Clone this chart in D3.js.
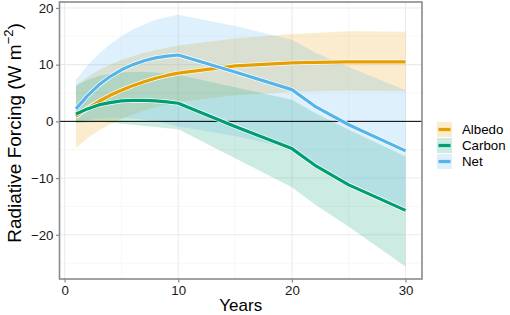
<!DOCTYPE html>
<html><head><meta charset="utf-8">
<script src="https://cdn.jsdelivr.net/npm/d3@7"></script>
<style>body{margin:0;background:#fff}svg{display:block;font-family:"Liberation Sans",Arial,sans-serif}</style>
</head><body><svg id="c" width="510" height="315"></svg>
<script>
const years = [1,2,3,4,5,6,7,8,9,10,15,20,22,25,30];
const albedoMean  = [0.9,2.3,3.5,4.6,5.5,6.3,7.0,7.6,8.1,8.5,9.8,10.3,10.4,10.5,10.5];
const albedoLower = [-4.7,-3.0,-1.6,-0.5,0.4,1.2,1.9,2.5,3.0,3.4,4.6,5.2,5.3,5.4,5.3];
const albedoUpper = [6.3,7.8,9.0,10.0,10.8,11.5,12.1,12.6,13.0,13.4,14.6,15.4,15.6,15.9,15.8];
const carbonMean  = [1.3,2.2,2.9,3.3,3.6,3.7,3.7,3.6,3.45,3.2,-0.9,-4.8,-7.7,-11.2,-15.7];
const carbonLower = [-0.3,-0.2,-0.1,-0.2,-0.4,-0.6,-0.8,-1.0,-1.2,-1.4,-6.5,-11.6,-14.6,-18.6,-25.6];
const carbonUpper = [6.3,7.3,8.0,8.4,8.6,8.7,8.7,8.6,8.4,8.2,6.0,3.8,1.5,-1.5,-6.2];
const netMean  = [2.2,4.5,6.4,7.9,9.1,10.0,10.7,11.2,11.5,11.7,8.7,5.6,2.7,-0.6,-5.2];
const netLower = [-0.3,0.2,0.5,0.6,0.6,0.5,0.3,0.0,-0.4,-0.9,-2.6,-4.8,-7.5,-10.8,-15.4];
const netUpper = [7.3,9.8,11.9,13.6,15.0,16.2,17.1,17.9,18.4,18.8,16.8,14.4,12.2,9.6,5.5];
const seriesNames = ["Albedo","Carbon","Net"];
const seriesColors = ["#E69F00","#009E73","#56B4E9"];
const xTicks = [0,10,20,30];
const yTicks = [-20,-10,0,10,20];
const xMinor = [5,15,25];
const yMinor = [-25,-15,-5,5,15];

const svg = d3.select("#c");
const L=59.5,R=422,T=2,B=279;
const x = d3.scaleLinear().domain([-0.45,31.45]).range([L,R]);
const y = d3.scaleLinear().domain([-27.8,21.05]).range([B,T]);

// grid
const g = svg.append("g");
g.selectAll(".ym").data(yMinor).join("line").attr("x1",L).attr("x2",R)
  .attr("y1",d=>y(d)).attr("y2",d=>y(d)).attr("stroke","#f2f2f2").attr("stroke-width",0.6);
g.selectAll(".xm").data(xMinor).join("line").attr("y1",T).attr("y2",B)
  .attr("x1",d=>x(d)).attr("x2",d=>x(d)).attr("stroke","#f2f2f2").attr("stroke-width",0.6);
g.selectAll(".yM").data(yTicks).join("line").attr("x1",L).attr("x2",R)
  .attr("y1",d=>y(d)).attr("y2",d=>y(d)).attr("stroke","#ebebeb").attr("stroke-width",1.1);
g.selectAll(".xM").data(xTicks).join("line").attr("y1",T).attr("y2",B)
  .attr("x1",d=>x(d)).attr("x2",d=>x(d)).attr("stroke","#ebebeb").attr("stroke-width",1.1);

const series = [
  {mean:albedoMean,lo:albedoLower,hi:albedoUpper},
  {mean:carbonMean,lo:carbonLower,hi:carbonUpper},
  {mean:netMean,lo:netLower,hi:netUpper}
];
const area = d3.area().x((d,i)=>x(years[i])).y0(d=>y(d[0])).y1(d=>y(d[1]));
const line = d3.line().x((d,i)=>x(years[i])).y(d=>y(d));
series.forEach((s,k)=>{
  svg.append("path").datum(s.lo.map((v,i)=>[v,s.hi[i]])).attr("d",area)
    .attr("fill",seriesColors[k]).attr("fill-opacity",0.2);
});
// zero line
svg.append("line").attr("x1",L).attr("x2",R).attr("y1",y(0)).attr("y2",y(0))
  .attr("stroke","#000").attr("stroke-width",1);
series.forEach((s,k)=>{
  svg.append("path").datum(s.mean).attr("d",line).attr("fill","none")
    .attr("stroke","#fff").attr("stroke-width",4.6).attr("stroke-linejoin","round");
  svg.append("path").datum(s.mean).attr("d",line).attr("fill","none")
    .attr("stroke",seriesColors[k]).attr("stroke-width",3.2).attr("stroke-linejoin","round");
});

// panel border
svg.append("rect").attr("x",L).attr("y",T).attr("width",R-L).attr("height",B-T)
  .attr("fill","none").attr("stroke","#8a8a8a").attr("stroke-width",1.6);

// axes
const ax = svg.append("g").attr("transform",`translate(0,${B})`)
  .call(d3.axisBottom(x).tickValues(xTicks).tickSize(3.5).tickPadding(3));
const ay = svg.append("g").attr("transform",`translate(${L},0)`)
  .call(d3.axisLeft(y).tickValues(yTicks).tickSize(3.5).tickPadding(2.5).tickFormat(d=>d<0?"\u2212"+Math.abs(d):d));
[ax,ay].forEach(a=>{
  a.select(".domain").remove();
  a.selectAll(".tick line").attr("stroke","#8a8a8a").attr("stroke-width",1.2);
  a.selectAll(".tick text").attr("fill","#1a1a1a").style("font-size","13.3px")
   .style("font-family","'Liberation Sans',Arial,sans-serif");
});

// titles
svg.append("text").attr("x",(L+R)/2).attr("y",311).attr("text-anchor","middle")
  .style("font-size","17px").attr("fill","#000").text("Years");
const yt = svg.append("text").attr("transform",`translate(21,133) rotate(-90)`)
  .attr("text-anchor","middle").style("font-size","19px").attr("fill","#000");
yt.append("tspan").text("Radiative Forcing (W m");
yt.append("tspan").attr("dy",-8).style("font-size","13px").text("\u22122");
yt.append("tspan").attr("dy",8).text(")");

// legend
const lg = svg.append("g").attr("transform","translate(437,122)");
seriesNames.forEach((n,k)=>{
  const r = lg.append("g").attr("transform",`translate(0,${k*16})`);
  r.append("rect").attr("x",0).attr("y",0).attr("width",15).attr("height",15)
    .attr("fill",seriesColors[k]).attr("fill-opacity",0.2);
  r.append("line").attr("x1",1.5).attr("x2",13.5).attr("y1",7.5).attr("y2",7.5)
    .attr("stroke",seriesColors[k]).attr("stroke-width",3.2);
  r.append("text").attr("x",25).attr("y",12.3).style("font-size","13.3px").attr("fill","#000").text(n);
});
</script></body></html>
